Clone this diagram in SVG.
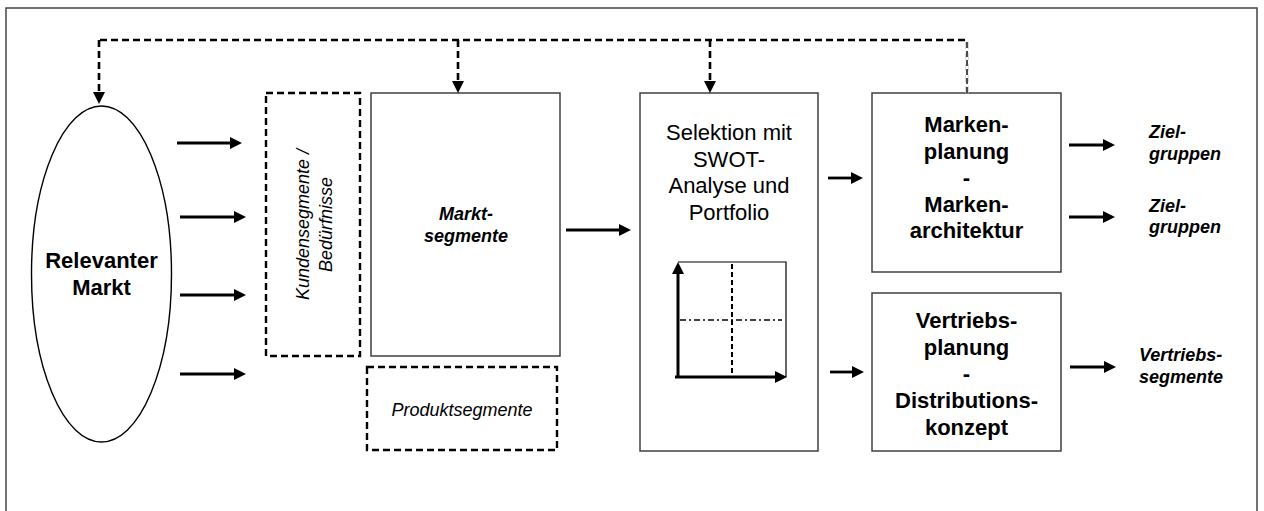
<svg xmlns="http://www.w3.org/2000/svg" width="1264" height="511" viewBox="0 0 1264 511">
<defs>
<style>
text{font-family:"Liberation Sans",Arial,Helvetica,sans-serif;fill:#000}
.b{font-weight:bold;font-size:22px;text-anchor:middle}
.r{font-size:22px;text-anchor:middle}
.bi{font-weight:bold;font-style:italic;font-size:18px}
.i{font-style:italic;font-size:18px}
.box{fill:#fff;stroke:#333;stroke-width:1.4}
.dbox{fill:#fff;stroke:#000;stroke-width:2.4;stroke-dasharray:7 4}
.arr{stroke:#000;stroke-width:2.8;fill:none;marker-end:url(#ah)}
.fb{stroke:#000;stroke-width:2.6;fill:none;stroke-dasharray:7 4}
</style>
<marker id="ah" viewBox="0 0 12 12" refX="6" refY="6" markerWidth="12" markerHeight="12" markerUnits="userSpaceOnUse" orient="auto">
<path d="M0,0 L12,6 L0,12 z" fill="#000"/>
</marker>
</defs>
<rect x="0" y="0" width="1264" height="511" fill="#fff"/>
<rect x="6" y="8" width="1251" height="520" fill="none" stroke="#444" stroke-width="1.5"/>

<g id="relevanter-markt">
<ellipse cx="101.5" cy="274" rx="70" ry="168" fill="#fff" stroke="#000" stroke-width="1.4"/>
<text class="b" x="101.5" y="268">Relevanter</text>
<text class="b" x="101.5" y="295">Markt</text>
</g>

<g id="kundensegmente">
<rect class="dbox" x="266" y="93" width="94" height="263"/>
<g transform="translate(309,224.5) rotate(-90)">
<text class="i" x="0" y="0" text-anchor="middle">Kundensegmente /</text>
<text class="i" x="0" y="23" text-anchor="middle">Bedürfnisse</text>
</g>
</g>

<g id="marktsegmente">
<rect class="box" x="371" y="93" width="189" height="263"/>
<text class="bi" x="466" y="220" text-anchor="middle">Markt-</text>
<text class="bi" x="466" y="242" text-anchor="middle">segmente</text>
</g>

<g id="produktsegmente">
<rect class="dbox" x="367" y="367" width="190" height="83"/>
<text class="i" x="462" y="416" text-anchor="middle">Produktsegmente</text>
</g>

<g id="selektion">
<rect class="box" x="640" y="93" width="178" height="358"/>
<text class="r" x="729" y="140">Selektion mit</text>
<text class="r" x="729" y="166.7">SWOT-</text>
<text class="r" x="729" y="193.3">Analyse und</text>
<text class="r" x="729" y="220">Portfolio</text>
<g id="portfolio">
<path d="M678,262 H786 V377" fill="none" stroke="#000" stroke-width="1.2"/>
<line x1="732" y1="264" x2="732" y2="377" stroke="#000" stroke-width="2" stroke-dasharray="5 3"/>
<line x1="680" y1="320" x2="782" y2="320" stroke="#000" stroke-width="1.5" stroke-dasharray="6 3 2 3"/>
<line x1="678" y1="378" x2="678" y2="268" stroke="#000" stroke-width="3" marker-end="url(#ah)"/>
<line x1="675" y1="377" x2="781" y2="377" stroke="#000" stroke-width="3" marker-end="url(#ah)"/>
</g>
</g>

<g id="markenplanung">
<rect class="box" x="872" y="93" width="189" height="179"/>
<text class="b" x="966.5" y="132">Marken-</text>
<text class="b" x="966.5" y="158.5">planung</text>
<text class="b" x="966.5" y="185">-</text>
<text class="b" x="966.5" y="211.5">Marken-</text>
<text class="b" x="966.5" y="238">architektur</text>
</g>

<g id="vertriebsplanung">
<rect class="box" x="872" y="293" width="189" height="158"/>
<text class="b" x="966.5" y="328">Vertriebs-</text>
<text class="b" x="966.5" y="354.7">planung</text>
<text class="b" x="966.5" y="381.3">-</text>
<text class="b" x="966.5" y="408">Distributions-</text>
<text class="b" x="966.5" y="434.7">konzept</text>
</g>

<g id="zielgruppen-1">
<text class="bi" x="1149" y="138">Ziel-</text>
<text class="bi" x="1149" y="160">gruppen</text>
</g>
<g id="zielgruppen-2">
<text class="bi" x="1149" y="212">Ziel-</text>
<text class="bi" x="1149" y="233">gruppen</text>
</g>
<g id="vertriebssegmente">
<text class="bi" x="1139" y="361">Vertriebs-</text>
<text class="bi" x="1139" y="383">segmente</text>
</g>

<g id="connectors">
<line class="arr" x1="177" y1="143" x2="236" y2="143"/>
<line class="arr" x1="180" y1="217" x2="240" y2="217"/>
<line class="arr" x1="180" y1="295" x2="240" y2="295"/>
<line class="arr" x1="180" y1="374" x2="240" y2="374"/>
<line class="arr" x1="566" y1="230" x2="625" y2="230"/>
<line class="arr" x1="828" y1="178" x2="857" y2="178"/>
<line class="arr" x1="830" y1="372" x2="858" y2="372"/>
<line class="arr" x1="1069" y1="145" x2="1109" y2="145"/>
<line class="arr" x1="1069" y1="217" x2="1109" y2="217"/>
<line class="arr" x1="1070" y1="367" x2="1110" y2="367"/>
<path class="fb" d="M967,93 V40 H99"/>
<line x1="967" y1="93" x2="967" y2="40" stroke="#fff" stroke-width="3"/>
<line x1="967" y1="93" x2="967" y2="40" stroke="#000" stroke-width="1.4" stroke-dasharray="6 3"/>
<line class="fb" x1="99" y1="40" x2="99" y2="98" marker-end="url(#ah)"/>
<line class="fb" x1="458" y1="40" x2="458" y2="87" marker-end="url(#ah)"/>
<line class="fb" x1="710" y1="40" x2="710" y2="87" marker-end="url(#ah)"/>
</g>
</svg>
